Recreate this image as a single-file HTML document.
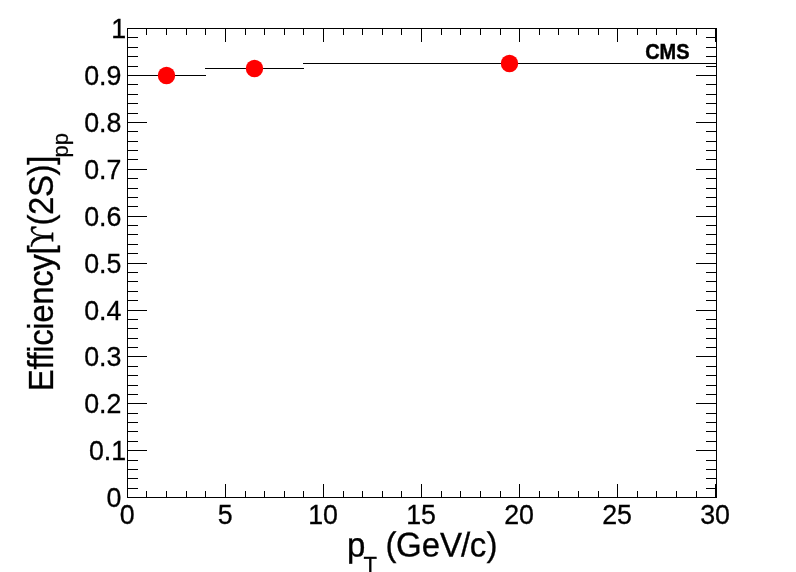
<!DOCTYPE html>
<html lang="en"><head><meta charset="utf-8"><title>Efficiency plot</title>
<style>html,body{margin:0;padding:0;background:#fff;}body{width:796px;height:572px;overflow:hidden;}svg{display:block;}</style>
</head><body>
<svg width="796" height="572" viewBox="0 0 796 572">
<rect x="0" y="0" width="796" height="572" fill="#fff"/>
<g shape-rendering="crispEdges" fill="#000">
<rect x="127" y="28" width="590" height="1"/>
<rect x="127" y="497" width="590" height="1"/>
<rect x="127" y="28" width="1" height="470"/>
<rect x="716" y="28" width="1" height="470"/>
<rect x="127" y="484" width="1" height="13"/>
<rect x="127" y="29" width="1" height="13"/>
<rect x="146" y="491" width="1" height="6"/>
<rect x="146" y="29" width="1" height="6"/>
<rect x="166" y="491" width="1" height="6"/>
<rect x="166" y="29" width="1" height="6"/>
<rect x="186" y="491" width="1" height="6"/>
<rect x="186" y="29" width="1" height="6"/>
<rect x="205" y="491" width="1" height="6"/>
<rect x="205" y="29" width="1" height="6"/>
<rect x="225" y="484" width="1" height="13"/>
<rect x="225" y="29" width="1" height="13"/>
<rect x="245" y="491" width="1" height="6"/>
<rect x="245" y="29" width="1" height="6"/>
<rect x="264" y="491" width="1" height="6"/>
<rect x="264" y="29" width="1" height="6"/>
<rect x="284" y="491" width="1" height="6"/>
<rect x="284" y="29" width="1" height="6"/>
<rect x="303" y="491" width="1" height="6"/>
<rect x="303" y="29" width="1" height="6"/>
<rect x="323" y="484" width="1" height="13"/>
<rect x="323" y="29" width="1" height="13"/>
<rect x="343" y="491" width="1" height="6"/>
<rect x="343" y="29" width="1" height="6"/>
<rect x="362" y="491" width="1" height="6"/>
<rect x="362" y="29" width="1" height="6"/>
<rect x="382" y="491" width="1" height="6"/>
<rect x="382" y="29" width="1" height="6"/>
<rect x="401" y="491" width="1" height="6"/>
<rect x="401" y="29" width="1" height="6"/>
<rect x="421" y="484" width="1" height="13"/>
<rect x="421" y="29" width="1" height="13"/>
<rect x="441" y="491" width="1" height="6"/>
<rect x="441" y="29" width="1" height="6"/>
<rect x="460" y="491" width="1" height="6"/>
<rect x="460" y="29" width="1" height="6"/>
<rect x="480" y="491" width="1" height="6"/>
<rect x="480" y="29" width="1" height="6"/>
<rect x="500" y="491" width="1" height="6"/>
<rect x="500" y="29" width="1" height="6"/>
<rect x="519" y="484" width="1" height="13"/>
<rect x="519" y="29" width="1" height="13"/>
<rect x="539" y="491" width="1" height="6"/>
<rect x="539" y="29" width="1" height="6"/>
<rect x="558" y="491" width="1" height="6"/>
<rect x="558" y="29" width="1" height="6"/>
<rect x="578" y="491" width="1" height="6"/>
<rect x="578" y="29" width="1" height="6"/>
<rect x="598" y="491" width="1" height="6"/>
<rect x="598" y="29" width="1" height="6"/>
<rect x="617" y="484" width="1" height="13"/>
<rect x="617" y="29" width="1" height="13"/>
<rect x="637" y="491" width="1" height="6"/>
<rect x="637" y="29" width="1" height="6"/>
<rect x="656" y="491" width="1" height="6"/>
<rect x="656" y="29" width="1" height="6"/>
<rect x="676" y="491" width="1" height="6"/>
<rect x="676" y="29" width="1" height="6"/>
<rect x="696" y="491" width="1" height="6"/>
<rect x="696" y="29" width="1" height="6"/>
<rect x="715" y="484" width="1" height="13"/>
<rect x="715" y="29" width="1" height="13"/>
<rect x="128" y="497" width="19" height="1"/>
<rect x="696" y="497" width="20" height="1"/>
<rect x="128" y="488" width="10" height="1"/>
<rect x="706" y="488" width="10" height="1"/>
<rect x="128" y="478" width="10" height="1"/>
<rect x="706" y="478" width="10" height="1"/>
<rect x="128" y="469" width="10" height="1"/>
<rect x="706" y="469" width="10" height="1"/>
<rect x="128" y="460" width="10" height="1"/>
<rect x="706" y="460" width="10" height="1"/>
<rect x="128" y="450" width="19" height="1"/>
<rect x="696" y="450" width="20" height="1"/>
<rect x="128" y="441" width="10" height="1"/>
<rect x="706" y="441" width="10" height="1"/>
<rect x="128" y="431" width="10" height="1"/>
<rect x="706" y="431" width="10" height="1"/>
<rect x="128" y="422" width="10" height="1"/>
<rect x="706" y="422" width="10" height="1"/>
<rect x="128" y="413" width="10" height="1"/>
<rect x="706" y="413" width="10" height="1"/>
<rect x="128" y="403" width="19" height="1"/>
<rect x="696" y="403" width="20" height="1"/>
<rect x="128" y="394" width="10" height="1"/>
<rect x="706" y="394" width="10" height="1"/>
<rect x="128" y="385" width="10" height="1"/>
<rect x="706" y="385" width="10" height="1"/>
<rect x="128" y="375" width="10" height="1"/>
<rect x="706" y="375" width="10" height="1"/>
<rect x="128" y="366" width="10" height="1"/>
<rect x="706" y="366" width="10" height="1"/>
<rect x="128" y="356" width="19" height="1"/>
<rect x="696" y="356" width="20" height="1"/>
<rect x="128" y="347" width="10" height="1"/>
<rect x="706" y="347" width="10" height="1"/>
<rect x="128" y="338" width="10" height="1"/>
<rect x="706" y="338" width="10" height="1"/>
<rect x="128" y="328" width="10" height="1"/>
<rect x="706" y="328" width="10" height="1"/>
<rect x="128" y="319" width="10" height="1"/>
<rect x="706" y="319" width="10" height="1"/>
<rect x="128" y="310" width="19" height="1"/>
<rect x="696" y="310" width="20" height="1"/>
<rect x="128" y="300" width="10" height="1"/>
<rect x="706" y="300" width="10" height="1"/>
<rect x="128" y="291" width="10" height="1"/>
<rect x="706" y="291" width="10" height="1"/>
<rect x="128" y="281" width="10" height="1"/>
<rect x="706" y="281" width="10" height="1"/>
<rect x="128" y="272" width="10" height="1"/>
<rect x="706" y="272" width="10" height="1"/>
<rect x="128" y="263" width="19" height="1"/>
<rect x="696" y="263" width="20" height="1"/>
<rect x="128" y="253" width="10" height="1"/>
<rect x="706" y="253" width="10" height="1"/>
<rect x="128" y="244" width="10" height="1"/>
<rect x="706" y="244" width="10" height="1"/>
<rect x="128" y="234" width="10" height="1"/>
<rect x="706" y="234" width="10" height="1"/>
<rect x="128" y="225" width="10" height="1"/>
<rect x="706" y="225" width="10" height="1"/>
<rect x="128" y="216" width="19" height="1"/>
<rect x="696" y="216" width="20" height="1"/>
<rect x="128" y="206" width="10" height="1"/>
<rect x="706" y="206" width="10" height="1"/>
<rect x="128" y="197" width="10" height="1"/>
<rect x="706" y="197" width="10" height="1"/>
<rect x="128" y="188" width="10" height="1"/>
<rect x="706" y="188" width="10" height="1"/>
<rect x="128" y="178" width="10" height="1"/>
<rect x="706" y="178" width="10" height="1"/>
<rect x="128" y="169" width="19" height="1"/>
<rect x="696" y="169" width="20" height="1"/>
<rect x="128" y="159" width="10" height="1"/>
<rect x="706" y="159" width="10" height="1"/>
<rect x="128" y="150" width="10" height="1"/>
<rect x="706" y="150" width="10" height="1"/>
<rect x="128" y="141" width="10" height="1"/>
<rect x="706" y="141" width="10" height="1"/>
<rect x="128" y="131" width="10" height="1"/>
<rect x="706" y="131" width="10" height="1"/>
<rect x="128" y="122" width="19" height="1"/>
<rect x="696" y="122" width="20" height="1"/>
<rect x="128" y="113" width="10" height="1"/>
<rect x="706" y="113" width="10" height="1"/>
<rect x="128" y="103" width="10" height="1"/>
<rect x="706" y="103" width="10" height="1"/>
<rect x="128" y="94" width="10" height="1"/>
<rect x="706" y="94" width="10" height="1"/>
<rect x="128" y="84" width="10" height="1"/>
<rect x="706" y="84" width="10" height="1"/>
<rect x="128" y="75" width="19" height="1"/>
<rect x="696" y="75" width="20" height="1"/>
<rect x="128" y="66" width="10" height="1"/>
<rect x="706" y="66" width="10" height="1"/>
<rect x="128" y="56" width="10" height="1"/>
<rect x="706" y="56" width="10" height="1"/>
<rect x="128" y="47" width="10" height="1"/>
<rect x="706" y="47" width="10" height="1"/>
<rect x="128" y="37" width="10" height="1"/>
<rect x="706" y="37" width="10" height="1"/>
<rect x="128" y="28" width="19" height="1"/>
<rect x="696" y="28" width="20" height="1"/>
<rect x="127" y="75" width="79" height="1"/>
<rect x="205" y="68" width="99" height="1"/>
<rect x="303" y="63" width="413" height="1"/>
</g>
<circle cx="166.5" cy="75.5" r="8.7" fill="#f00"/>
<circle cx="254.5" cy="68.5" r="8.7" fill="#f00"/>
<circle cx="509.5" cy="63.5" r="8.7" fill="#f00"/>
<g font-family="'Liberation Sans', Arial, Helvetica, sans-serif" font-size="26.8" fill="#000" stroke="#000" stroke-width="0.3">
<text transform="translate(127.1,524) scale(1,1.035)" text-anchor="middle">0</text>
<text transform="translate(225.1,524) scale(1,1.035)" text-anchor="middle">5</text>
<text transform="translate(323.1,524) scale(1,1.035)" text-anchor="middle">10</text>
<text transform="translate(421.1,524) scale(1,1.035)" text-anchor="middle">15</text>
<text transform="translate(519.1,524) scale(1,1.035)" text-anchor="middle">20</text>
<text transform="translate(617.1,524) scale(1,1.035)" text-anchor="middle">25</text>
<text transform="translate(715.1,524) scale(1,1.035)" text-anchor="middle">30</text>
<text transform="translate(121.4,507) scale(1,1.035)" text-anchor="end">0</text>
<text transform="translate(126.2,460) scale(1,1.035)" text-anchor="end">0.1</text>
<text transform="translate(121.4,413) scale(1,1.035)" text-anchor="end">0.2</text>
<text transform="translate(121.4,366) scale(1,1.035)" text-anchor="end">0.3</text>
<text transform="translate(121.4,320) scale(1,1.035)" text-anchor="end">0.4</text>
<text transform="translate(121.4,273) scale(1,1.035)" text-anchor="end">0.5</text>
<text transform="translate(121.4,226) scale(1,1.035)" text-anchor="end">0.6</text>
<text transform="translate(121.4,179) scale(1,1.035)" text-anchor="end">0.7</text>
<text transform="translate(121.4,132) scale(1,1.035)" text-anchor="end">0.8</text>
<text transform="translate(121.4,85) scale(1,1.035)" text-anchor="end">0.9</text>
<text transform="translate(126.2,38) scale(1,1.035)" text-anchor="end">1</text>
</g>
<g font-family="'Liberation Sans', Arial, Helvetica, sans-serif" fill="#000" stroke="#000" stroke-width="0.3">
<text transform="translate(347,556.5) rotate(0.03) scale(1,1.04)" x="0" y="0" font-size="33">p<tspan font-size="22" dy="15.5" dx="-1.8">T</tspan><tspan dy="-15.5 -0.5 0.5 0 0 0 0 -0.5" dx="0 -0.7 -0.5 0 0 -1.1 -0.3 0.2"> (GeV/c)</tspan></text>
<g transform="translate(53.3,391.2) rotate(-90) scale(1,1.04)" font-size="33">
<text x="0" y="0" letter-spacing="-0.4">Efficiency[</text>
<text transform="translate(144.2,0) scale(0.84,1)" x="0" y="0" font-family="'Liberation Serif', 'DejaVu Serif', serif" stroke="#000" stroke-width="0.7">ϒ</text>
<text x="165.7" y="0" letter-spacing="-0.4">(2S)]<tspan font-size="22" dy="14.0" dx="-1.6" letter-spacing="0">pp</tspan></text>
</g>
<text transform="translate(645.2,59.0) scale(0.895,1)" x="0" y="0" font-size="22.3" font-weight="bold" stroke="#000" stroke-width="0.45">CMS</text>
</g>
</svg>
</body></html>
